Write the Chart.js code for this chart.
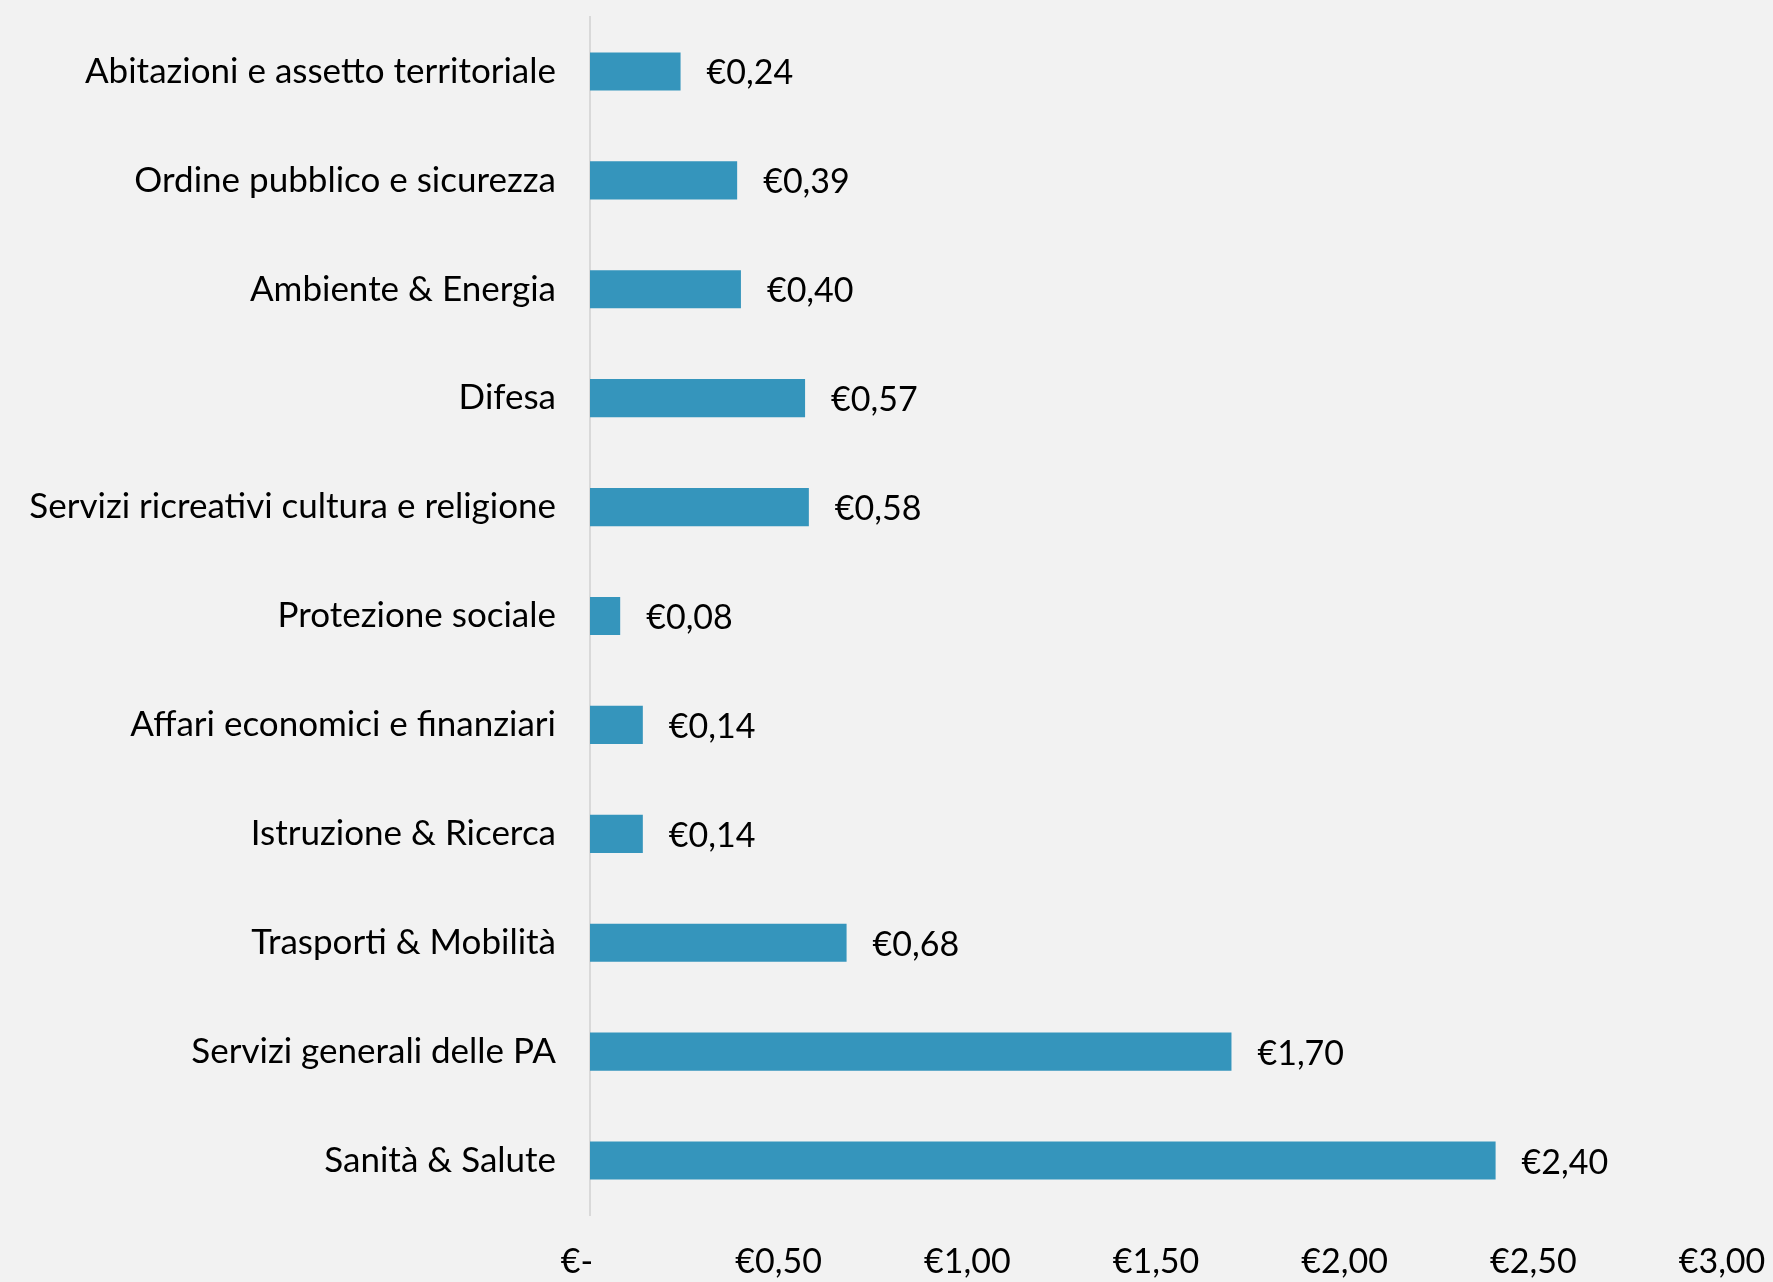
<!DOCTYPE html>
<html>
<head>
<meta charset="utf-8">
<script src="https://cdn.jsdelivr.net/npm/chart.js@4"></script>
<style>
  html, body { margin: 0; padding: 0; background: #f2f2f2; }
  #wrap { width: 1773px; height: 1282px; }
</style>
</head>
<body>
<div id="wrap"><canvas id="chart" width="1773" height="1282"></canvas></div>
<script>
// spesa per voce, in euro
const categories = [
    'Abitazioni e assetto territoriale',
    'Ordine pubblico e sicurezza',
    'Ambiente & Energia',
    'Difesa',
    'Servizi ricreativi cultura e religione',
    'Protezione sociale',
    'Affari economici e finanziari',
    'Istruzione & Ricerca',
    'Trasporti & Mobilità',
    'Servizi generali delle PA',
    'Sanità & Salute'
];
const values = [0.24, 0.39, 0.40, 0.57, 0.58, 0.08, 0.14, 0.14, 0.68, 1.70, 2.40];
const tickValues = [0, 0.5, 1, 1.5, 2, 2.5, 3];

const FONT = 'Lato, "Open Sans", sans-serif';

function euro(v) {
    if (v === 0) return '€-   '; // formato contabile, trattino allineato a sinistra
    return '€' + v.toFixed(2).replace('.', ',');
}

// etichette di valore a destra delle barre
const valueLabels = {
    id: 'valueLabels',
    afterDatasetsDraw(chart) {
        const ctx = chart.ctx;
        const meta = chart.getDatasetMeta(0);
        ctx.save();
        ctx.font = '34px ' + FONT;
        ctx.fillStyle = '#000';
        ctx.textAlign = 'left';
        ctx.textBaseline = 'middle';
        meta.data.forEach(function (bar, i) {
            ctx.fillText(euro(values[i]), bar.x + 26, bar.y + 2);
        });
        ctx.restore();
    }
};

new Chart(document.getElementById('chart'), {
    type: 'bar',
    data: {
        labels: categories,
        datasets: [{
            data: values,
            backgroundColor: '#3595bc',
            borderWidth: 0,
            barPercentage: 0.35,
            categoryPercentage: 1
        }]
    },
    options: {
        indexAxis: 'y',
        responsive: false,
        animation: false,
        layout: { padding: { top: 17, right: 51, left: 0, bottom: 0 } },
        plugins: {
            legend: { display: false },
            tooltip: { enabled: false }
        },
        scales: {
            x: {
                min: 0,
                max: 3,
                afterBuildTicks(scale) {
                    scale.ticks = tickValues.map(v => ({ value: v }));
                },
                afterFit(scale) {
                    scale.height = 67;
                    scale.paddingLeft = 0;
                    scale.paddingRight = 0;
                },
                grid: { display: false, drawTicks: false },
                border: { display: false },
                ticks: {
                    padding: 27,
                    color: '#000',
                    font: { family: FONT, size: 34 },
                    maxRotation: 0,
                    callback: v => euro(v)
                }
            },
            y: {
                afterFit(scale) {
                    scale.width = 590;
                    scale.paddingTop = 0;
                    scale.paddingBottom = 0;
                },
                grid: { display: false, drawTicks: false },
                border: { display: true, color: '#d9d9d9', width: 2 },
                ticks: {
                    padding: 34,
                    color: '#000',
                    font: { family: FONT, size: 35 },
                    autoSkip: false
                }
            }
        }
    },
    plugins: [
        {
            id: 'bg',
            beforeDraw(chart) {
                const ctx = chart.ctx;
                ctx.save();
                ctx.fillStyle = '#f2f2f2';
                ctx.fillRect(0, 0, chart.width, chart.height);
                ctx.restore();
            }
        },
        valueLabels
    ]
});
</script>
</body>
</html>
